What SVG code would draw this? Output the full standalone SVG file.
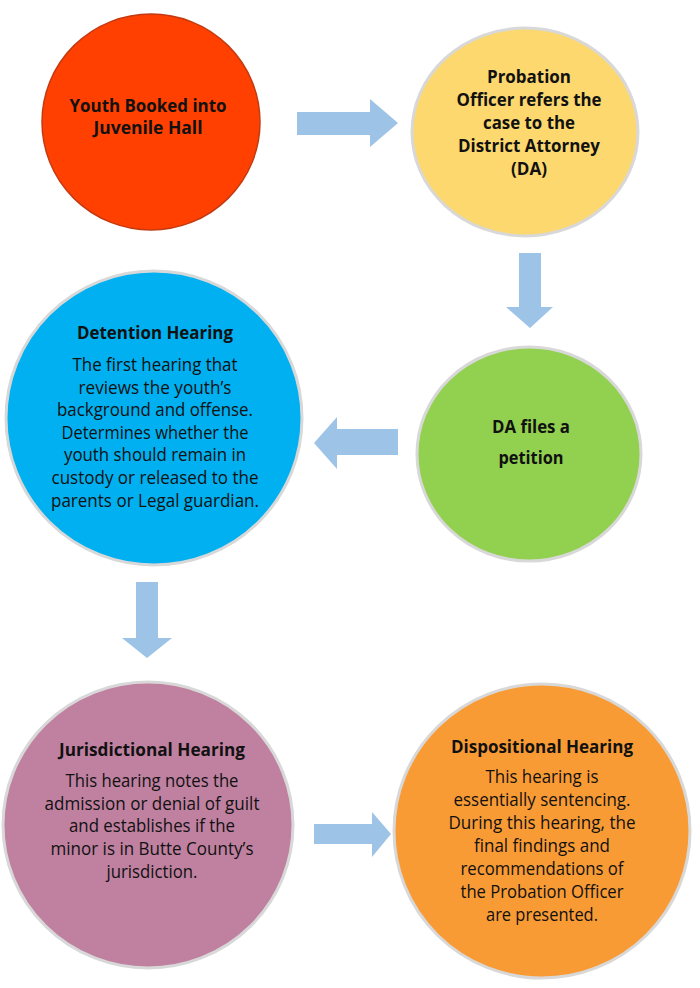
<svg xmlns="http://www.w3.org/2000/svg" width="700" height="988" viewBox="0 0 700 988">
<style>
.node{stroke:#d8d8d8;stroke-width:3}
.t{font-family:"Open Sans","Noto Sans","Liberation Sans",sans-serif;font-size:18px;fill:#111;text-anchor:middle}
.b{font-weight:bold}
.arrow{fill:#9DC3E6}
</style>
<rect width="700" height="988" fill="#ffffff"/>
<g id="connectors">
<polygon class="arrow" points="297,112 370,112 370,99 398,123 370,147 370,135 297,135"/>
<polygon class="arrow" points="519,253 541,253 541,307 553,307 530,328 506,307 519,307"/>
<polygon class="arrow" points="398,429 337,429 337,417 314,443 337,469 337,455 398,455"/>
<polygon class="arrow" points="136,582 158,582 158,638 172,638 147,658 122,638 136,638"/>
<polygon class="arrow" points="314,824 372,824 372,812 391,834 372,857 372,844 314,844"/>
</g>
<g id="booked">
<ellipse class="node" cx="151" cy="122" rx="109" ry="108" fill="#FF4000" style="stroke:#c43a10;stroke-width:1.5"/>
<text class="t b" x="148" y="112" textLength="157" lengthAdjust="spacingAndGlyphs">Youth Booked into</text>
<text class="t b" x="148" y="134" textLength="109" lengthAdjust="spacingAndGlyphs">Juvenile Hall</text>
</g>
<g id="probation">
<ellipse class="node" cx="525" cy="132" rx="113" ry="104" fill="#FCD86E"/>
<text class="t b" x="529" y="83" textLength="84" lengthAdjust="spacingAndGlyphs">Probation</text>
<text class="t b" x="529" y="106" textLength="145" lengthAdjust="spacingAndGlyphs">Officer refers the</text>
<text class="t b" x="529" y="129" textLength="92" lengthAdjust="spacingAndGlyphs">case to the</text>
<text class="t b" x="529" y="152" textLength="142" lengthAdjust="spacingAndGlyphs">District Attorney</text>
<text class="t b" x="529" y="175" textLength="36" lengthAdjust="spacingAndGlyphs">(DA)</text>
</g>
<g id="detention">
<ellipse class="node" cx="154" cy="418" rx="148" ry="147" fill="#00B0F0"/>
<text class="t b" x="155" y="339" textLength="156" lengthAdjust="spacingAndGlyphs">Detention Hearing</text>
<text class="t" x="155" y="371" textLength="165" lengthAdjust="spacingAndGlyphs">The first hearing that</text>
<text class="t" x="155" y="394" textLength="153" lengthAdjust="spacingAndGlyphs">reviews the youth’s</text>
<text class="t" x="155" y="416" textLength="196" lengthAdjust="spacingAndGlyphs">background and offense.</text>
<text class="t" x="155" y="439" textLength="187" lengthAdjust="spacingAndGlyphs">Determines whether the</text>
<text class="t" x="155" y="461" textLength="182" lengthAdjust="spacingAndGlyphs">youth should remain in</text>
<text class="t" x="155" y="484" textLength="207" lengthAdjust="spacingAndGlyphs">custody or released to the</text>
<text class="t" x="155" y="507" textLength="208" lengthAdjust="spacingAndGlyphs">parents or Legal guardian.</text>
</g>
<g id="petition">
<ellipse class="node" cx="529" cy="454" rx="112" ry="107" fill="#92D050"/>
<text class="t b" x="531" y="433" textLength="78" lengthAdjust="spacingAndGlyphs">DA files a</text>
<text class="t b" x="531" y="464" textLength="65" lengthAdjust="spacingAndGlyphs">petition</text>
</g>
<g id="jurisdictional">
<ellipse class="node" cx="148" cy="825" rx="145" ry="143" fill="#C081A1"/>
<text class="t b" x="152" y="756" textLength="186" lengthAdjust="spacingAndGlyphs">Jurisdictional Hearing</text>
<text class="t" x="152" y="787" textLength="173" lengthAdjust="spacingAndGlyphs">This hearing notes the</text>
<text class="t" x="152" y="810" textLength="215" lengthAdjust="spacingAndGlyphs">admission or denial of guilt</text>
<text class="t" x="152" y="832" textLength="166" lengthAdjust="spacingAndGlyphs">and establishes if the</text>
<text class="t" x="152" y="855" textLength="203" lengthAdjust="spacingAndGlyphs">minor is in Butte County’s</text>
<text class="t" x="152" y="878" textLength="91" lengthAdjust="spacingAndGlyphs">jurisdiction.</text>
</g>
<g id="dispositional">
<ellipse class="node" cx="542" cy="831" rx="148" ry="147" fill="#F99B35"/>
<text class="t b" x="542" y="753" textLength="182" lengthAdjust="spacingAndGlyphs">Dispositional Hearing</text>
<text class="t" x="542" y="783" textLength="113" lengthAdjust="spacingAndGlyphs">This hearing is</text>
<text class="t" x="542" y="806" textLength="177" lengthAdjust="spacingAndGlyphs">essentially sentencing.</text>
<text class="t" x="542" y="829" textLength="187" lengthAdjust="spacingAndGlyphs">During this hearing, the</text>
<text class="t" x="542" y="852" textLength="136" lengthAdjust="spacingAndGlyphs">final findings and</text>
<text class="t" x="542" y="875" textLength="163" lengthAdjust="spacingAndGlyphs">recommendations of</text>
<text class="t" x="542" y="898" textLength="163" lengthAdjust="spacingAndGlyphs">the Probation Officer</text>
<text class="t" x="542" y="921" textLength="112" lengthAdjust="spacingAndGlyphs">are presented.</text>
</g>
</svg>
